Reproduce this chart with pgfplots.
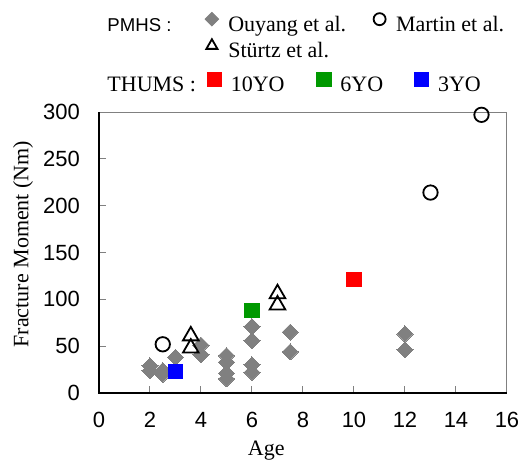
\documentclass[border=0pt]{standalone}
\usepackage{pgfplots}
\pgfplotsset{compat=1.18}
\usepackage{fontspec}
\setmainfont{Liberation Serif}
\newfontfamily\arialfont{Liberation Sans}
\definecolor{ougray}{RGB}{128,128,128}
\definecolor{tgreen}{RGB}{0,153,0}
\begin{document}
\begin{tikzpicture}
\pgfplotsset{
  mylegend/.style={
    legend image code/.code={\path (-5pt,0pt) (5pt,0pt); \draw[##1] plot coordinates {(0pt,3.3pt)};},
  },
}
\begin{axis}[
  scale only axis,
  width=204pt, height=140.5pt,
  xmin=0, xmax=16, ymin=0, ymax=300,
  xtick={0,2,...,16}, ytick={0,50,...,300},
  xtick pos=left, ytick pos=left,
  tick align=inside,
  major tick length=3.5pt,
  tick style={gray, line width=0.5pt},
  axis line style={gray, line width=0.5pt},
  /pgf/number format/assume math mode=true,
  tick label style={font=\arialfont\fontsize{11}{12}\selectfont},
  xticklabel style={yshift=-6pt},
  yticklabel style={xshift=-6pt},
  label style={font=\fontsize{11}{12}\selectfont},
  xlabel={Age},
  ylabel={Fracture Moment (Nm)},
  xlabel style={at={(axis description cs:0.41,-0.224)},anchor=base},
  ylabel style={at={(axis description cs:-0.186,0.53)},anchor=center},
  clip=false,
  mylegend,
  legend columns=3,
  legend style={draw=none, fill=none, inner sep=0pt, at={(0.005,1.356)}, anchor=north west,
    font=\fontsize{11}{12}\selectfont,
    nodes={inner xsep=3pt, inner ysep=0pt, text height=7.5pt, text depth=2pt},
    /tikz/row sep=2pt,
    /tikz/column 2/.style={column sep=12pt},
    /tikz/column 4/.style={column sep=8.5pt},
    cells={anchor=west}},
]
% Ouyang et al. (PMHS)
\addplot[forget plot, only marks, mark=square*, mark size=2.83pt, mark options={rotate=45, fill=ougray, draw=ougray, line width=0pt}] coordinates {
  (2,29) (2,24) (2.5,24) (2.5,20) (3,38) (4,51) (4,41)
  (5,40) (5,33) (5,21) (5,15)
  (6,71) (6,56) (6,30) (6,22)
  (7.5,65) (7.5,44) (12,63) (12,46)
};
% Martin et al.
\addplot[forget plot, only marks, mark=o, mark size=3.6pt, mark options={draw=black, line width=0.9pt}] coordinates {
  (2.5,52) (13,214) (15,297)
};
% Stuertz et al.
\addplot[forget plot, only marks, mark=triangle, mark size=4.5pt, mark options={draw=black, line width=0.9pt}] coordinates {
  (3.6,61) (3.6,48) (7,106) (7,94)
};
% THUMS
\addplot[forget plot, only marks, mark=square*, mark size=3.6pt, mark options={fill=red, draw=red}] coordinates {(10,121)};
\addplot[forget plot, only marks, mark=square*, mark size=3.6pt, mark options={fill=tgreen, draw=tgreen}] coordinates {(6,88)};
\addplot[forget plot, only marks, mark=square*, mark size=3.6pt, mark options={fill=blue, draw=blue}] coordinates {(3,23)};
% legend
\addlegendimage{empty legend}
\addlegendentry{\arialfont\fontsize{9.3}{10}\selectfont PMHS :}
\addlegendimage{only marks, mark=square*, mark size=2.4pt, mark options={rotate=45, fill=ougray, draw=ougray}}
\addlegendentry{Ouyang et al.}
\addlegendimage{only marks, mark=o, mark size=3pt, mark options={draw=black, line width=0.9pt}}
\addlegendentry{Martin et al.}
\addlegendimage{empty legend}
\addlegendentry{}
\addlegendimage{only marks, mark=triangle, mark size=3.2pt, mark options={draw=black, line width=0.9pt}}
\addlegendentry{Stürtz et al.}
\addlegendimage{empty legend}
\addlegendentry{}
\draw[black, line width=1pt] (rel axis cs:0,1) -- (rel axis cs:0,0) -- (rel axis cs:1,0);
\end{axis}
\begin{axis}[
  scale only axis,
  width=204pt, height=140.5pt,
  xmin=0, xmax=1, ymin=0, ymax=1,
  hide axis,
  mylegend,
  legend columns=4,
  legend style={draw=none, fill=none, inner sep=0pt, at={(0.005,1.143)}, anchor=north west,
    font=\fontsize{11}{12}\selectfont,
    nodes={inner xsep=3pt, inner ysep=0pt, text height=7.5pt, text depth=2pt},
    /tikz/column 2/.style={column sep=1pt},
    /tikz/column 4/.style={column sep=11.5pt},
    /tikz/column 6/.style={column sep=11pt},
    cells={anchor=west}},
]
\addlegendimage{empty legend}
\addlegendentry{THUMS :}
\addlegendimage{only marks, mark=square*, mark size=3.6pt, mark options={fill=red, draw=red}}
\addlegendentry{10YO}
\addlegendimage{only marks, mark=square*, mark size=3.6pt, mark options={fill=tgreen, draw=tgreen}}
\addlegendentry{6YO}
\addlegendimage{only marks, mark=square*, mark size=3.6pt, mark options={fill=blue, draw=blue}}
\addlegendentry{3YO}
\end{axis}
\pgfresetboundingbox
\useasboundingbox (-49.5pt,-35pt) rectangle (210.5pt,196.5pt);
\end{tikzpicture}
\end{document}
